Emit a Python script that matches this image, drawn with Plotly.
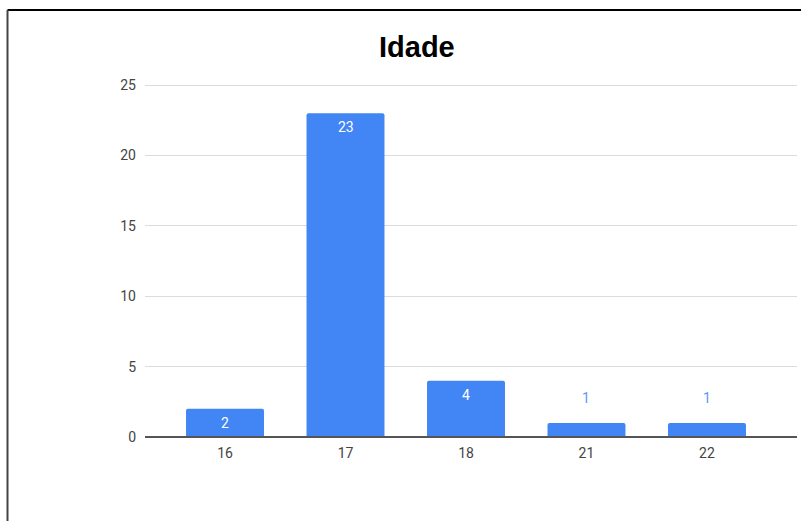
import plotly.graph_objects as go

categories = ["16", "17", "18", "21", "22"]
values = [2, 23, 4, 1, 1]
y_ticks = [0, 5, 10, 15, 20, 25]

BLUE = "#4285F4"

fig = go.Figure()
fig.add_trace(go.Bar(
    x=categories, y=values, marker=dict(color=BLUE, line=dict(width=0)),
    width=0.647, hoverinfo="skip",
))

annotations = []
for i, v in enumerate(values):
    inside = v >= 2
    annotations.append(dict(
        x=i, y=v, xref="x", yref="y", text=str(v), showarrow=False,
        yanchor="middle", yshift=-14 if inside else 25,
        font=dict(family="Roboto, Arial", size=14, color="white" if inside else "#5E97F6"),
    ))

# plot-area geometry (px): left 145, right 797, y(0)=437, y(25)=85
PL, PR = 145, 797
T, B = 82, 84
PH = 521 - T - B
Y0 = 437

def px_to_paper_x(px):
    return (px - PL) / (PR - PL)

def px_to_paper_y(py):
    return (Y0 - py) / PH

annotations.append(dict(
    x=px_to_paper_x(417), y=px_to_paper_y(47), xref="paper", yref="paper",
    text="<b>Idade</b>", showarrow=False, xanchor="center", yanchor="middle",
    font=dict(family="Liberation Sans, Arial", size=29, color="#000"),
))

fig.update_layout(
    width=801, height=521,
    margin=dict(l=PL, r=801 - PR, t=T, b=B),
    paper_bgcolor="white", plot_bgcolor="white",
    showlegend=False,
    barcornerradius=2,
    annotations=annotations,
    xaxis=dict(
        type="category", range=[-0.664, 4.747], showgrid=False,
        tickfont=dict(family="Roboto, Arial", size=14, color="#444"),
        ticks="", showline=False, zeroline=False, fixedrange=True,
        ticklabelstandoff=6,
    ),
    yaxis=dict(
        range=[0, 25 * PH / 352], tickvals=y_ticks, showgrid=True, gridcolor="#dcdcdc", gridwidth=1,
        tickfont=dict(family="Roboto, Arial", size=14, color="#444"),
        zeroline=False, showline=False, ticks="", ticklabelstandoff=8,
    ),
    shapes=[
        dict(type="line", xref="paper", yref="paper", x0=0, x1=1, y0=0, y1=0,
             line=dict(color="#555", width=2)),
        dict(type="line", xref="paper", yref="paper",
             x0=px_to_paper_x(7.5), x1=px_to_paper_x(810),
             y0=px_to_paper_y(10), y1=px_to_paper_y(10), line=dict(color="#000", width=2)),
        dict(type="line", xref="paper", yref="paper",
             x0=px_to_paper_x(7.5), x1=px_to_paper_x(7.5),
             y0=px_to_paper_y(10), y1=px_to_paper_y(530), line=dict(color="#444", width=2)),
    ],
)

fig.write_html("out.html")
